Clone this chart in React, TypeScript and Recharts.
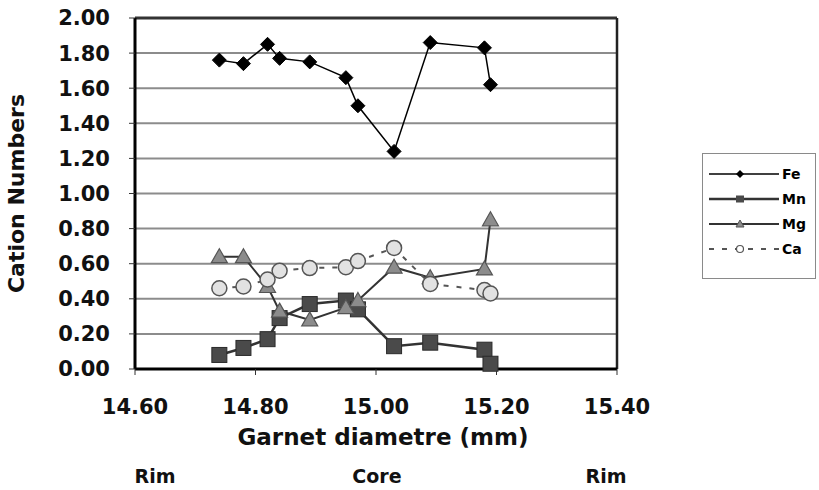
import React from 'react';
import {
  LineChart,
  Line,
  XAxis,
  YAxis,
  CartesianGrid,
  ReferenceLine,
  Legend,
} from 'recharts';

// garnet traverse positions (mm)
const diameter = [14.74, 14.78, 14.82, 14.84, 14.89, 14.95, 14.97, 15.03, 15.09, 15.18, 15.19];

const fe = [1.76, 1.74, 1.85, 1.77, 1.75, 1.66, 1.5, 1.24, 1.86, 1.83, 1.62];
const mn = [0.08, 0.12, 0.17, 0.29, 0.37, 0.39, 0.34, 0.13, 0.15, 0.11, 0.03];
const mg = [0.64, 0.64, 0.47, 0.33, 0.28, 0.35, 0.39, 0.58, 0.52, 0.57, 0.85];
const ca = [0.46, 0.47, 0.51, 0.56, 0.575, 0.58, 0.615, 0.69, 0.485, 0.45, 0.43];

const xTicks = [14.6, 14.8, 15.0, 15.2, 15.4];
const yTicks = [0, 0.2, 0.4, 0.6, 0.8, 1.0, 1.2, 1.4, 1.6, 1.8, 2.0];

const zones = ['Rim', 'Core', 'Rim'];

const data = diameter.map((d, i) => ({
  x: d,
  Fe: fe[i],
  Mn: mn[i],
  Mg: mg[i],
  Ca: ca[i],
}));

const FONT = '"DejaVu Sans", Arial, sans-serif';

const diamond = (p: any) => {
  const { cx, cy, index } = p;
  const s = 7;
  return (
    <path
      key={`fe-${index}`}
      d={`M${cx},${cy - s}L${cx + s},${cy}L${cx},${cy + s}L${cx - s},${cy}Z`}
      fill="#000"
      stroke="#000"
    />
  );
};

const square = (p: any) => {
  const { cx, cy, index } = p;
  const s = 7.5;
  return (
    <rect
      key={`mn-${index}`}
      x={cx - s}
      y={cy - s}
      width={s * 2}
      height={s * 2}
      fill="#4a4a4a"
      stroke="#2a2a2a"
      strokeWidth={1}
    />
  );
};

const triangle = (p: any) => {
  const { cx, cy, index } = p;
  return (
    <path
      key={`mg-${index}`}
      d={`M${cx},${cy - 8}L${cx + 8},${cy + 6}L${cx - 8},${cy + 6}Z`}
      fill="#8c8c8c"
      stroke="#555"
      strokeWidth={1.2}
    />
  );
};

const circle = (p: any) => {
  const { cx, cy, index } = p;
  return (
    <circle
      key={`ca-${index}`}
      cx={cx}
      cy={cy}
      r={7.5}
      fill="#e2e2e2"
      stroke="#555"
      strokeWidth={1.5}
    />
  );
};

const legendItems = [
  { name: 'Fe', stroke: '#000', width: 1.5, dash: undefined, icon: 'diamond' },
  { name: 'Mn', stroke: '#333', width: 2.5, dash: undefined, icon: 'square' },
  { name: 'Mg', stroke: '#333', width: 2, dash: undefined, icon: 'triangle' },
  { name: 'Ca', stroke: '#555', width: 2, dash: '5 8', icon: 'circle' },
];

function LegendIcon({ item }: { item: (typeof legendItems)[number] }) {
  let marker = null;
  if (item.icon === 'diamond') marker = <path d="M31,3 L35,7 L31,11 L27,7Z" fill="#000" />;
  if (item.icon === 'square') marker = <rect x={27} y={3.5} width={8} height={7} fill="#4a4a4a" />;
  if (item.icon === 'triangle')
    marker = <path d="M31,3 L35,10 L27,10Z" fill="#8c8c8c" stroke="#555" />;
  if (item.icon === 'circle')
    marker = <circle cx={31} cy={7} r={3.5} fill="#fff" stroke="#555" strokeWidth={1.2} />;
  return (
    <svg width={70} height={14} style={{ display: 'block' }}>
      <line
        x1={0}
        y1={7}
        x2={70}
        y2={7}
        stroke={item.stroke}
        strokeWidth={item.width}
        strokeDasharray={item.dash}
      />
      {marker}
    </svg>
  );
}

const renderLegend = () => (
  <div
    style={{
      border: '1.5px solid #8a8a8a',
      width: 114,
      height: 126,
      boxSizing: 'border-box',
      padding: '10px 0 0 6px',
      background: '#fff',
    }}
  >
    {legendItems.map((item) => (
      <div
        key={item.name}
        style={{ display: 'flex', alignItems: 'center', height: 31, marginTop: -6 }}
      >
        <LegendIcon item={item} />
        <span style={{ fontSize: 14, fontWeight: 'bold', marginLeft: 3, fontFamily: FONT }}>
          {item.name}
        </span>
      </div>
    ))}
  </div>
);

export default function App() {
  return (
    <div
      style={{
        position: 'absolute',
        left: 0,
        top: 0,
        width: 819,
        height: 490,
        background: '#fff',
        fontFamily: FONT,
      }}
    >
      <LineChart
        width={819}
        height={490}
        data={data}
        margin={{ top: 18, right: 202, bottom: 41, left: 0 }}
      >
        <CartesianGrid vertical={false} stroke="#8c8c8c" strokeWidth={2} />
        <XAxis
          dataKey="x"
          type="number"
          domain={[14.6, 15.4]}
          ticks={xTicks}
          tickFormatter={(v: number) => v.toFixed(2)}
          height={80}
          tickSize={6}
          tickMargin={24}
          axisLine={{ stroke: '#000', strokeWidth: 3 }}
          tickLine={{ stroke: '#333' }}
          tick={{ fontSize: 21, fontWeight: 'bold', fill: '#111' }}
        />
        <YAxis
          type="number"
          domain={[0, 2]}
          ticks={yTicks}
          tickFormatter={(v: number) => v.toFixed(2)}
          width={135}
          tickSize={6}
          tickMargin={19}
          axisLine={{ stroke: '#000', strokeWidth: 3 }}
          tickLine={{ stroke: '#333' }}
          tick={{ fontSize: 21, fontWeight: 'bold', fill: '#111' }}
          label={{
            value: 'Cation Numbers',
            angle: -90,
            position: 'insideLeft',
            offset: 16,
            style: { fontSize: 22, fontWeight: 'bold', fill: '#111', textAnchor: 'middle' },
          }}
        />
        <ReferenceLine y={2} stroke="#333" strokeWidth={3} />
        <ReferenceLine x={15.4} stroke="#222" strokeWidth={2.5} />
        <Legend
          layout="horizontal"
          align="center"
          verticalAlign="middle"
          content={renderLegend}
          wrapperStyle={{ left: 702, top: 153, width: 116 }}
        />
        <Line
          dataKey="Fe"
          stroke="#000"
          strokeWidth={1.5}
          dot={diamond}
          activeDot={false}
          isAnimationActive={false}
        />
        <Line
          dataKey="Mn"
          stroke="#333"
          strokeWidth={2.5}
          dot={square}
          activeDot={false}
          isAnimationActive={false}
        />
        <Line
          dataKey="Mg"
          stroke="#333"
          strokeWidth={2}
          dot={triangle}
          activeDot={false}
          isAnimationActive={false}
        />
        <Line
          dataKey="Ca"
          stroke="#555"
          strokeWidth={2}
          strokeDasharray="5 8"
          dot={circle}
          activeDot={false}
          isAnimationActive={false}
        />
      </LineChart>
      <div
        style={{
          position: 'absolute',
          left: 233,
          top: 424,
          width: 300,
          textAlign: 'center',
          fontSize: 23,
          fontWeight: 'bold',
          color: '#111',
        }}
      >
        Garnet diametre (mm)
      </div>
      {zones.map((z, i) => (
        <div
          key={i}
          style={{
            position: 'absolute',
            left: [155, 377, 606][i] - 40,
            top: 465,
            width: 80,
            textAlign: 'center',
            fontSize: 19,
            fontWeight: 'bold',
            color: '#111',
          }}
        >
          {z}
        </div>
      ))}
    </div>
  );
}
